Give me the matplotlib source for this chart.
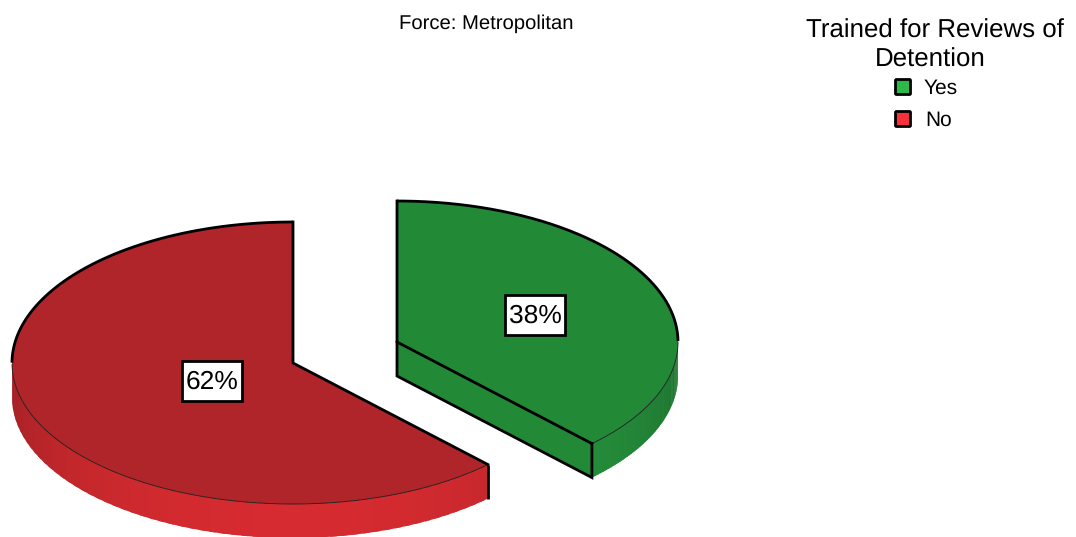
import numpy as np
from matplotlib import pyplot as plt
from matplotlib.patches import FancyBboxPatch, Rectangle

plt.rcParams['font.family'] = ['Liberation Sans', 'DejaVu Sans']
plt.rcParams['text.hinting'] = 'none'

labels = ["Yes", "No"]
shares = [37.8, 62.2]
title = "Force: Metropolitan"
legend_title = ["Trained for Reviews of", "Detention"]

legend_colors = ["#2DB84A", "#F5323C"]
top_colors = ["#228A37", "#AF2529"]
side_colors = [(39, 150, 62), (214, 43, 48)]

# pie geometry in pixels
centers = [(397, 342), (293, 363)]
rx = 281
ry = 141
depth = 34
label_pos = [(535, 315), (212, 381)]


def ell(c, a):
    return c[0] + rx * np.cos(a), c[1] - ry * np.sin(a)


fig = plt.figure(figsize=(10.76, 5.37), dpi=100)
ax = fig.add_axes([0, 0, 1, 1])
ax.set_xlim(0, 1076)
ax.set_ylim(537, 0)
ax.axis("off")

start = np.pi / 2
for i in range(2):
    sweep = shares[i] / 100 * 2 * np.pi
    c = centers[i]
    if i == 0:
        # yes goes clockwise from 12 o'clock
        a0, a1 = start - sweep, start
        cut = a0
        wall_from, wall_to = a0, 0
    else:
        # no goes round the other way, ends where yes ends
        a0, a1 = start, start + sweep
        cut = a1
        wall_from, wall_to = np.pi, a1

    angles = np.linspace(a0, a1, 300)
    x, y = ell(c, angles)

    # outer wall, only the part facing the viewer, in thin strips for the shading
    edges = np.linspace(wall_from, wall_to, 60)
    for a, b in zip(edges[:-1], edges[1:]):
        mid = (a + b) / 2
        f = 0.75 + 0.25 * abs(np.sin(mid))
        col = [v * f / 255 for v in side_colors[i]]
        # run a bit into the next strip so no seams show
        ang = np.clip(np.linspace(a, b + (b - a) * 0.6, 5), wall_from, wall_to)
        px, py = ell(c, ang)
        ax.fill(np.r_[px, px[::-1]], np.r_[py, py[::-1] + depth], color=col, lw=0, zorder=1)

    ex, ey = ell(c, cut)
    if i == 0:
        # flat side of the slice, seen only on yes
        ax.fill([c[0], ex, ex, c[0]], [c[1], ey, ey + depth, c[1] + depth],
                color=top_colors[i], lw=0, zorder=2)
        ax.plot([c[0], c[0], ex, ex], [c[1], c[1] + depth, ey + depth, ey], color="black", lw=2, zorder=5,
                solid_joinstyle="miter")
    else:
        ax.plot([ex, ex], [ey, ey + depth], color="black", lw=2, zorder=5, solid_capstyle="butt")

    # top face
    ax.fill(np.r_[c[0], x], np.r_[c[1], y], color=top_colors[i], lw=0, zorder=3)

    # thin line along the front, heavy along the back and on the cuts
    front = np.sin(angles) < 0
    ax.plot(x[front], y[front], color="#1a1a1a", lw=0.6, zorder=4)
    ax.plot(x[~front], y[~front], color="black", lw=2, zorder=5, solid_capstyle="butt")
    tx, ty = ell(c, start)
    ax.plot([tx, c[0], ex], [ty, c[1], ey], color="black", lw=2, zorder=5, solid_joinstyle="miter")

    box_w = 60
    box_h = 40
    ax.add_patch(Rectangle((label_pos[i][0] - box_w / 2, label_pos[i][1] - box_h / 2), box_w, box_h,
                           fc="white", ec="black", lw=2, zorder=6))
    ax.text(label_pos[i][0], label_pos[i][1] + 1, "%.0f%%" % shares[i], fontsize=19, ha="center", va="center",
            zorder=7)

ax.text(486, 23.5, title, fontsize=14.6, ha="center", va="center")
ax.text(935, 31.5, legend_title[0], fontsize=18.6, ha="center", va="center")
ax.text(930, 60.5, legend_title[1], fontsize=18.6, ha="center", va="center")

legend_y = [87, 119]
legend_x = [924, 925]
for i in range(2):
    box = FancyBboxPatch((895.5, legend_y[i] - 7.5), 15, 15, boxstyle="round,pad=0,rounding_size=1",
                         fc=legend_colors[i], ec="black", lw=2)
    ax.add_patch(box)
    ax.text(legend_x[i], legend_y[i] + 1, labels[i], fontsize=15, ha="left", va="center")

fig.savefig("out.png", dpi=100)
